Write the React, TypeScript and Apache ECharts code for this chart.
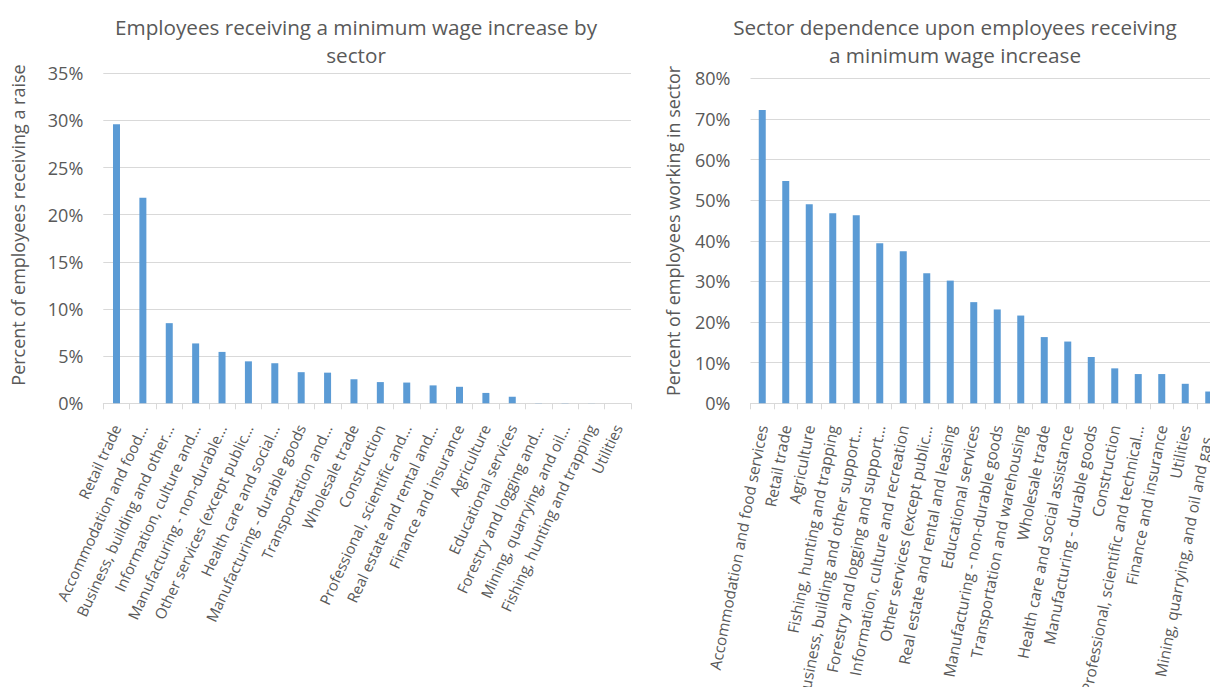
import React, { useEffect, useRef } from "react";
import * as echarts from "echarts";

const leftTitle = "Employees receiving a minimum wage increase by\nsector";
const rightTitle = "Sector dependence upon employees receiving\na minimum wage increase";
const leftAxisName = "Percent of employees receiving a raise";
const rightAxisName = "Percent of employees working in sector";

const leftCategories = [
  "Retail trade",
  "Accommodation and food…",
  "Business, building and other…",
  "Information, culture and…",
  "Manufacturing - non-durable…",
  "Other services (except public…",
  "Health care and social…",
  "Manufacturing - durable goods",
  "Transportation and…",
  "Wholesale trade",
  "Construction",
  "Professional, scientific and…",
  "Real estate and rental and…",
  "Finance and insurance",
  "Agriculture",
  "Educational services",
  "Forestry and logging and…",
  "Mining, quarrying, and oil…",
  "Fishing, hunting and trapping",
  "Utilities",
];
const leftValues = [
  29.6, 21.8, 8.5, 6.35, 5.45, 4.45, 4.25, 3.3, 3.25, 2.55, 2.25, 2.2, 1.9, 1.75, 1.1, 0.7, 0.02, 0.02, 0.01, 0,
];

const rightCategories = [
  "Accommodation and food services",
  "Retail trade",
  "Agriculture",
  "Fishing, hunting and trapping",
  "Business, building and other support…",
  "Forestry and logging and support…",
  "Information, culture and recreation",
  "Other services (except public…",
  "Real estate and rental and leasing",
  "Educational services",
  "Manufacturing - non-durable goods",
  "Transportation and warehousing",
  "Wholesale trade",
  "Health care and social assistance",
  "Manufacturing - durable goods",
  "Construction",
  "Professional, scientific and technical…",
  "Finance and insurance",
  "Utilities",
  "Mining, quarrying, and oil and gas…",
];
const rightValues = [
  72.2, 54.7, 49.0, 46.8, 46.3, 39.4, 37.4, 32.0, 30.2, 24.9, 23.1, 21.6, 16.3, 15.2, 11.4, 8.6, 7.2, 7.2, 4.8, 2.9,
];

const leftAxisMax = 35;
const leftAxisStep = 5;
const rightAxisMax = 80;
const rightAxisStep = 10;

export default function App() {
  const ref = useRef<HTMLDivElement>(null);

  useEffect(() => {
    const chart = echarts.init(ref.current!, null, { renderer: "svg" });
    const font = "'Open Sans', sans-serif";
    const gray = "#595959";
    const lineColor = "#D9D9D9";
    const barColor = "#5B9BD5";

    const xAxis = (cats: string[], rotate: number, gridIndex: number, size: number) => ({
      type: "category",
      gridIndex,
      data: cats,
      axisLine: { lineStyle: { color: lineColor, width: 1 } },
      axisTick: { show: true, length: 6, lineStyle: { color: lineColor } },
      axisLabel: {
        interval: 0,
        rotate,
        color: gray,
        fontFamily: font,
        fontSize: size,
        margin: 22,
      },
      splitLine: { show: false },
    });

    const yAxis = (max: number, step: number, gridIndex: number) => ({
      type: "value",
      gridIndex,
      min: 0,
      max,
      interval: step,
      axisLine: { show: false },
      axisTick: { show: false },
      axisLabel: {
        formatter: "{value}%",
        color: gray,
        fontFamily: font,
        fontSize: 18,
        margin: 20,
      },
      splitLine: { lineStyle: { color: lineColor, width: 1 } },
    });

    chart.setOption({
      animation: false,
      textStyle: { fontFamily: font },
      grid: [
        { left: 103.3, top: 73.3, width: 527.7, height: 330, outerBoundsMode: "none", containLabel: false },
        { left: 750.5, top: 78.3, width: 470, height: 325, outerBoundsMode: "none", containLabel: false },
      ],
      xAxis: [xAxis(leftCategories, 65, 0, 15), xAxis(rightCategories, 79, 1, 15.5)],
      yAxis: [yAxis(leftAxisMax, leftAxisStep, 0), yAxis(rightAxisMax, rightAxisStep, 1)],
      series: [
        {
          type: "bar",
          xAxisIndex: 0,
          yAxisIndex: 0,
          data: leftValues,
          barWidth: 7,
          itemStyle: { color: barColor },
        },
        {
          type: "bar",
          xAxisIndex: 1,
          yAxisIndex: 1,
          data: rightValues,
          barWidth: 7,
          itemStyle: { color: barColor },
        },
      ],
      graphic: [
        {
          type: "text",
          x: 356,
          y: 41,
          style: {
            text: leftTitle,
            fill: gray,
            fontFamily: font,
            fontSize: 20.7,
            lineHeight: 28,
            align: "center",
            verticalAlign: "middle",
          },
        },
        {
          type: "text",
          x: 955,
          y: 41,
          style: {
            text: rightTitle,
            fill: gray,
            fontFamily: font,
            fontSize: 20.7,
            lineHeight: 28,
            align: "center",
            verticalAlign: "middle",
          },
        },
        {
          type: "text",
          x: 18,
          y: 225,
          rotation: Math.PI / 2,
          style: {
            text: leftAxisName,
            fill: gray,
            fontFamily: font,
            fontSize: 18,
            align: "center",
            verticalAlign: "middle",
          },
        },
        {
          type: "text",
          x: 672.5,
          y: 231,
          rotation: Math.PI / 2,
          style: {
            text: rightAxisName,
            fill: gray,
            fontFamily: font,
            fontSize: 18,
            align: "center",
            verticalAlign: "middle",
          },
        },
      ],
    });

    return () => chart.dispose();
  }, []);

  return (
    <div
      style={{
        position: "absolute",
        left: 0,
        top: 0,
        width: 1210,
        height: 687,
        overflow: "hidden",
        background: "#fff",
      }}
    >
      <div ref={ref} style={{ width: 1240, height: 687 }} />
    </div>
  );
}
